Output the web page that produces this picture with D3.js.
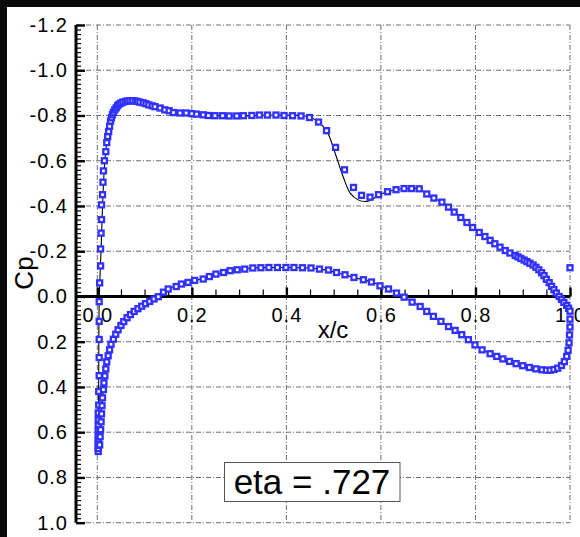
<!DOCTYPE html>
<html><head><meta charset="utf-8">
<script src="https://cdn.jsdelivr.net/npm/d3@7"></script>
<style>
html,body{margin:0;padding:0;background:#0b0b0b;}
svg{display:block;}
text{font-family:"Liberation Sans",Arial,sans-serif;fill:#000;}
</style></head>
<body>
<svg id="chart" width="580" height="537"></svg>
<script>
// ---------- data ----------
const xTicks = [0.0, 0.2, 0.4, 0.6, 0.8, 1.0];
const xTickLabels = ["0.0", "0.2", "0.4", "0.6", "0.8", "1.0"];
const yTicks = [-1.2, -1.0, -0.8, -0.6, -0.4, -0.2, 0.0, 0.2, 0.4, 0.6, 0.8, 1.0];
const yTickLabels = ["-1.2", "-1.0", "-0.8", "-0.6", "-0.4", "-0.2", "0.0", "0.2", "0.4", "0.6", "0.8", "1.0"];
const xLabel = "x/c";
const yLabel = "Cp";
const annotation = "eta = .727";

// experiment, upper surface (from stagnation to trailing edge)
const upperX = [0.002,0.002,0.002,0.002,0.002,0.002,0.002,0.002,0.002,0.002,0.003,0.003,0.004,0.004,0.004,
  0.004,0.004,0.005,0.007,0.007,0.008,0.009,0.009,0.011,0.012,0.013,0.015,0.018,0.020,
  0.022,0.024,0.026,0.028,0.030,0.032,0.034,0.037,0.040,0.043,0.046,0.050,0.054,0.059,0.064,0.069,0.074,0.080,0.085,0.090,0.097,0.103,0.109,0.116,0.122,
  0.133,0.143,0.152,0.161,0.175,0.188,0.200,0.210,0.224,0.235,0.249,0.265,0.279,0.295,0.309,0.327,0.343,0.360,0.378,0.395,0.413,0.431,0.449,0.468,0.485,0.504,0.523,
  0.542,0.559,0.577,0.595,0.614,0.632,0.649,0.665,0.681,0.697,0.712,0.729,0.743,0.755,0.769,0.782,0.794,0.808,0.820,0.831,0.841,0.852,0.863,0.873,0.884,
  0.890,0.896,0.903,0.909,0.915,0.922,0.928,0.934,0.940,0.945,0.950,0.956,0.961,0.966,0.971,0.977,0.982,0.987,0.993,0.997,1.000];
const upperCp = [0.685,0.672,0.658,0.644,0.630,0.612,0.592,0.570,0.545,0.515,0.480,0.420,0.350,0.270,0.190,
  0.110,0.023,-0.060,-0.135,-0.210,-0.280,-0.340,-0.405,-0.450,-0.505,-0.555,-0.600,-0.640,-0.680,
  -0.707,-0.729,-0.752,-0.775,-0.790,-0.803,-0.814,-0.825,-0.834,-0.843,-0.850,-0.855,-0.859,-0.862,-0.864,-0.865,-0.865,-0.864,-0.862,-0.859,-0.856,-0.852,-0.847,-0.843,-0.839,
  -0.833,-0.825,-0.821,-0.813,-0.811,-0.811,-0.808,-0.806,-0.803,-0.800,-0.799,-0.799,-0.798,-0.798,-0.799,-0.800,-0.802,-0.802,-0.802,-0.800,-0.799,-0.798,-0.791,-0.771,-0.733,-0.659,-0.560,
  -0.482,-0.447,-0.439,-0.450,-0.463,-0.472,-0.477,-0.477,-0.476,-0.453,-0.435,-0.417,-0.395,-0.373,-0.349,-0.327,-0.305,-0.283,-0.265,-0.248,-0.233,-0.218,-0.203,-0.192,-0.181,
  -0.175,-0.168,-0.161,-0.154,-0.147,-0.139,-0.129,-0.118,-0.105,-0.092,-0.076,-0.061,-0.045,-0.030,-0.015,0.000,0.013,0.026,0.039,0.052,0.065];

// experiment, lower surface (from stagnation to trailing edge)
const lowerX = [0.005,0.006,0.007,0.008,0.009,0.010,0.011,0.013,0.014,0.016,0.018,0.020,0.023,0.026,0.029,0.034,0.039,0.044,0.050,0.056,0.063,0.070,0.078,0.086,0.094,0.102,0.111,0.120,0.129,
  0.140,0.150,0.167,0.178,0.192,0.206,0.224,0.237,0.251,0.267,0.281,0.296,0.312,0.329,0.346,0.363,0.381,0.399,0.416,0.434,0.452,0.470,0.489,0.506,0.524,0.543,0.563,0.580,0.598,0.616,0.633,0.649,0.666,0.683,0.697,0.711,0.727,0.743,0.757,0.771,0.785,0.799,0.814,0.831,0.845,
  0.858,0.872,0.886,0.900,0.914,0.928,0.941,0.950,0.958,0.966,0.974,0.982,0.988,0.993,0.996,0.998,0.999,1.000,1.000];
const lowerCp = [0.656,0.620,0.589,0.554,0.519,0.483,0.448,0.412,0.382,0.351,0.320,0.289,0.262,0.236,0.211,0.189,0.167,0.147,0.128,0.111,0.094,0.080,0.066,0.054,0.043,0.032,0.022,0.011,0.001,
  -0.019,-0.033,-0.044,-0.055,-0.062,-0.071,-0.077,-0.088,-0.099,-0.106,-0.114,-0.118,-0.121,-0.126,-0.127,-0.128,-0.128,-0.128,-0.128,-0.127,-0.126,-0.121,-0.117,-0.106,-0.096,-0.084,-0.074,-0.064,-0.047,-0.033,-0.015,0.003,0.025,0.044,0.066,0.088,0.110,0.133,0.150,0.169,0.191,0.214,0.236,0.253,0.265,
  0.276,0.287,0.297,0.306,0.314,0.320,0.324,0.326,0.326,0.323,0.317,0.305,0.288,0.265,0.238,0.205,0.170,0.135,0.100];

// isolated trailing-edge tap
const teX = [1.0];
const teCp = [-0.127];

// computed solution (solid line)
const cfdUpperX = [0.002,0.003,0.004,0.008,0.012,0.016,0.020,0.026,0.032,0.040,0.050,0.065,0.080,0.100,0.125,0.150,0.175,0.200,0.250,0.300,0.350,0.400,0.430,0.450,0.465,0.485,0.503,0.520,0.535,0.552,0.566,0.580,0.595,0.614,0.632,0.650,0.665,0.681,0.697,0.712,0.729,0.743,0.755,0.769,0.782,0.794,0.808,0.820,0.831,0.841,0.852,0.863,0.873,0.884,0.903,0.922,0.940,0.956,0.971,0.987,1.000];
const cfdUpperCp = [0.685,0.350,0.023,-0.210,-0.450,-0.600,-0.680,-0.752,-0.803,-0.834,-0.855,-0.864,-0.864,-0.856,-0.841,-0.825,-0.812,-0.808,-0.800,-0.798,-0.801,-0.802,-0.800,-0.792,-0.775,-0.733,-0.634,-0.530,-0.457,-0.427,-0.420,-0.427,-0.448,-0.463,-0.472,-0.477,-0.477,-0.476,-0.453,-0.435,-0.417,-0.395,-0.373,-0.349,-0.327,-0.305,-0.283,-0.265,-0.248,-0.233,-0.218,-0.203,-0.192,-0.181,-0.161,-0.139,-0.105,-0.061,-0.015,0.026,0.065];
const cfdLowerX = [0.002,0.006,0.010,0.016,0.023,0.034,0.050,0.070,0.094,0.120,0.150,0.192,0.237,0.281,0.329,0.381,0.434,0.470,0.506,0.543,0.580,0.616,0.649,0.683,0.711,0.743,0.771,0.799,0.831,0.858,0.886,0.914,0.941,0.958,0.974,0.988,0.996,1.000];
const cfdLowerCp = [0.685,0.620,0.483,0.351,0.262,0.189,0.128,0.080,0.043,0.011,-0.033,-0.062,-0.088,-0.114,-0.126,-0.128,-0.127,-0.121,-0.106,-0.084,-0.064,-0.033,0.003,0.044,0.088,0.133,0.169,0.214,0.253,0.276,0.297,0.314,0.324,0.326,0.317,0.288,0.238,0.100];

// ---------- layout ----------
const W = 580, H = 537;
const plotLeft = 97.3, plotRight = 570, plotTop = 25, plotBottom = 522.7;
const axisX = 76;
const svg = d3.select("#chart");

svg.append("rect").attr("x", 7).attr("y", 7).attr("width", W - 7).attr("height", H - 7).attr("fill", "#fff");

const x = d3.scaleLinear().domain([0, 1]).range([plotLeft, plotRight]);
const y = d3.scaleLinear().domain([-1.2, 1.0]).range([plotTop, plotBottom]);
const y0 = y(0);

// grid
const grid = svg.append("g").attr("stroke", "#6e6e6e").attr("stroke-width", 1).attr("stroke-dasharray", "5,2,1,2").attr("fill", "none");
yTicks.filter(v => v !== 0).forEach(v => {
  grid.append("line").attr("x1", axisX).attr("x2", plotRight).attr("y1", y(v)).attr("y2", y(v));
});
xTicks.forEach(v => {
  grid.append("line").attr("x1", x(v)).attr("x2", x(v)).attr("y1", plotTop).attr("y2", plotBottom);
});

// y-axis: ticks to the right of the axis line, labels to the left
const yMinor = d3.range(-1.2, 1.0001, 0.02).map(v => +v.toFixed(2));
const yScaleAx = y.copy();
svg.append("g").attr("transform", `translate(${axisX},0)`)
  .call(d3.axisRight(yScaleAx).tickValues(yMinor).tickSize(5).tickFormat(""))
  .call(g => { g.select(".domain").remove(); g.selectAll("line").attr("stroke", "#000").attr("stroke-width", 1.2); });
svg.append("g").attr("transform", `translate(${axisX},0)`)
  .call(d3.axisRight(yScaleAx).tickValues(yTicks).tickSize(9).tickFormat(""))
  .call(g => { g.select(".domain").remove(); g.selectAll("line").attr("stroke", "#000").attr("stroke-width", 2.4); });
const yLab = svg.append("g").attr("transform", `translate(${axisX},0)`)
  .call(d3.axisLeft(yScaleAx).tickValues(yTicks).tickSize(0).tickPadding(8).tickFormat((d, i) => yTickLabels[i]));
yLab.select(".domain").remove();
yLab.selectAll("text").attr("font-size", 20).attr("font-family", "Liberation Sans, Arial, sans-serif").attr("letter-spacing", "1px").attr("fill", "#000");

// x-axis at Cp = 0: ticks upward, labels below
const xMinor = d3.range(0, 1.0001, 0.05).map(v => +v.toFixed(2));
svg.append("g").attr("transform", `translate(0,${y0})`)
  .call(d3.axisTop(x).tickValues(xMinor).tickSize(7).tickFormat(""))
  .call(g => { g.select(".domain").remove(); g.selectAll("line").attr("stroke", "#000").attr("stroke-width", 1.2); });
svg.append("g").attr("transform", `translate(0,${y0})`)
  .call(d3.axisTop(x).tickValues(xTicks).tickSize(9).tickFormat(""))
  .call(g => { g.select(".domain").remove(); g.selectAll("line").attr("stroke", "#000").attr("stroke-width", 2.4); });
const xLab = svg.append("g").attr("transform", `translate(0,${y0})`)
  .call(d3.axisBottom(x).tickValues(xTicks).tickSize(0).tickPadding(11).tickFormat((d, i) => xTickLabels[i]));
xLab.select(".domain").remove();
xLab.selectAll("text").attr("font-size", 20).attr("font-family", "Liberation Sans, Arial, sans-serif").attr("letter-spacing", "1px").attr("fill", "#000");

// axis lines
svg.append("line").attr("x1", axisX).attr("x2", axisX).attr("y1", plotTop).attr("y2", plotBottom).attr("stroke", "#000").attr("stroke-width", 3);
svg.append("line").attr("x1", axisX).attr("x2", plotRight).attr("y1", y0).attr("y2", y0).attr("stroke", "#000").attr("stroke-width", 3);

// axis titles
svg.append("text").attr("x", 333).attr("y", 338).attr("text-anchor", "middle").attr("font-size", 24).text(xLabel);
svg.append("text").attr("transform", `translate(33,273) rotate(-90)`).attr("text-anchor", "middle").attr("font-size", 26).text(yLabel);

// computed line
const lineU = d3.line().x(d => x(d[0])).y(d => y(d[1])).curve(d3.curveCatmullRom.alpha(0.5));
svg.append("path").datum(cfdUpperX.map((v, i) => [v, cfdUpperCp[i]])).attr("d", lineU)
  .attr("fill", "none").attr("stroke", "#000").attr("stroke-width", 1.1);
svg.append("path").datum(cfdLowerX.map((v, i) => [v, cfdLowerCp[i]])).attr("d", lineU)
  .attr("fill", "none").attr("stroke", "#000").attr("stroke-width", 1.1);

// markers
const mk = 5;
function markers(xs, cps) {
  svg.append("g").selectAll("rect").data(xs.map((v, i) => [v, cps[i]])).join("rect")
    .attr("x", d => x(d[0]) - mk / 2).attr("y", d => y(d[1]) - mk / 2)
    .attr("width", mk).attr("height", mk)
    .attr("fill", "#fff").attr("stroke", "#3030ff").attr("stroke-width", 2.3);
}
markers(upperX, upperCp);
markers(lowerX, lowerCp);
markers(teX, teCp);

// annotation box
const ann = svg.append("g");
ann.append("rect").attr("x", 224.5).attr("y", 462.5).attr("width", 175.5).attr("height", 39)
  .attr("fill", "#fff").attr("stroke", "#555").attr("stroke-width", 1);
ann.append("text").attr("x", 312).attr("y", 494).attr("text-anchor", "middle").attr("font-size", 35).text(annotation);
</script>
</body></html>
